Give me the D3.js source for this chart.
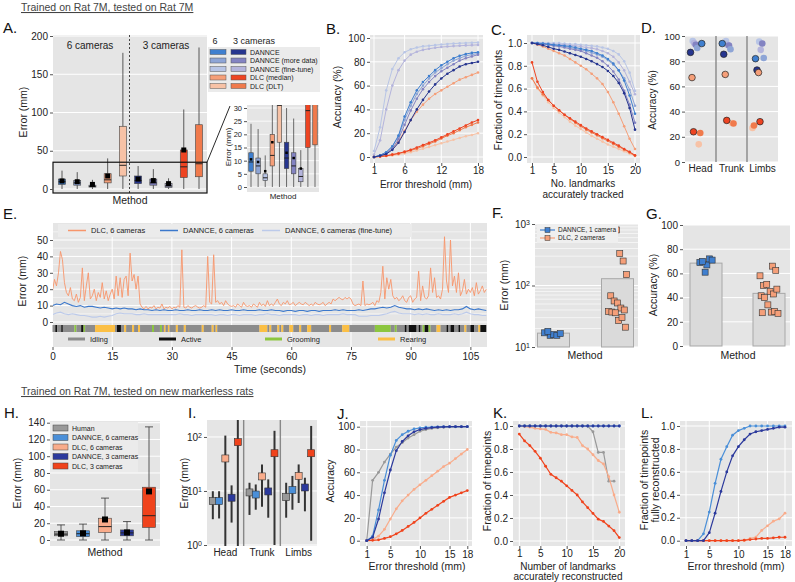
<!DOCTYPE html>
<html><head><meta charset="utf-8">
<script src="https://cdn.jsdelivr.net/npm/d3@7/dist/d3.min.js"></script>
<style>body{margin:0;background:#fff}svg{font-family:"Liberation Sans",Arial,Helvetica,sans-serif;display:block}</style>
</head><body><svg id="fig" width="795" height="582" viewBox="0 0 795 582"></svg>
<script>
// ================= DATA =================
// Panel A (box stats), order: DANNCE, more data, fine-tune, DLC median, DLC DLT
const methodsA = ['DANNCE','DANNCE (more data)','DANNCE (fine-tune)','DLC (median)','DLC (DLT)'];
const colors6 = ['#3f7fcf','#8ea5d6','#b8c5e6','#f59f79','#f7c2a6'];
const colors3 = ['#26358f','#8383c2','#b4b4dc','#ee4422','#f07a4c'];
const a6Low=[0,0,0,0,0], a6Q1=[6,5,2.5,8,17], a6Med=[9.5,8,3.5,12,31], a6Q3=[13,11,5,20,82], a6High=[24,22,12,40,178], a6Mean=[10.5,9.5,6,17,null];
const a3Low=[0,0,0,0,0], a3Q1=[7,5,2,15,16], a3Med=[11,8,4,29,33], a3Q3=[17,13,7,51,84], a3High=[30,26,14,104,185], a3Mean=[13,11,7,51,null];
const aTicks=[0,50,100,150,200], aInsetTicks=[0,5,10,15,20,25,30];

// Panel B: accuracy vs threshold
const bThresh=[1,2,3,4,5,6,7,8,9,10,11,12,13,14,15,16,17,18];
const bFt6=[5,25,56,74,83,88,90.5,92,93,93.5,94,94.5,95,95.3,95.6,95.8,96,96.2];
const bFt3=[2,14,40,60,73,81,86,88.5,90,91,91.8,92.4,92.8,93.2,93.5,93.8,94,94.2];
const bD6=[0,1.5,4,9,18,34,46,56,63,68,73,77,80,83,85,86.5,87.5,88];
const bMd6=[0,1.5,4,9,17,31,43,53,60,66,71,74.5,78,81,83,85,86,87];
const bMd3=[0,1,3,7,15,27,39,49,57,63,68,72,75,78,81,83,84.5,86];
const bD3=[0,1,2.5,6,12,21,31,40,48,55,61,66,70,73,76,78,79,80];
const bDm6=[0,1,3,7,13,22,31,38,44,49,53,56,59,62,65,67,69,71];
const bDm3=[0,0.5,1,2,3,4.5,6,8,10,12,14,16.5,19,21.5,24,26.5,29,31];
const bDl3=[0,0.5,1,2,3,4,5.5,7,9,11,13,15.5,18,20,22.5,25,27,29];
const bDl6=[0,0.3,0.7,1.2,2,3,4,5.5,7,8.5,10,11.5,13,14.5,16,17.5,18.5,20];

// Panel C: fraction of timepoints vs number of landmarks
const cN=[1,2,3,4,5,6,7,8,9,10,11,12,13,14,15,16,17,18,19,20];
const cFt6=[1,1,1,1,1,1,0.995,0.99,0.99,0.985,0.98,0.975,0.97,0.96,0.95,0.93,0.9,0.84,0.74,0.58];
const cFt3=[1,1,1,0.995,0.99,0.99,0.985,0.98,0.975,0.97,0.96,0.955,0.945,0.93,0.91,0.88,0.83,0.76,0.66,0.55];
const cD6=[1,1,0.995,0.99,0.985,0.98,0.975,0.97,0.96,0.95,0.94,0.93,0.91,0.89,0.86,0.82,0.76,0.67,0.54,0.38];
const cMd6=[1,0.995,0.99,0.985,0.98,0.975,0.97,0.96,0.95,0.94,0.93,0.915,0.9,0.88,0.85,0.81,0.76,0.69,0.59,0.45];
const cMd3=[1,0.995,0.99,0.985,0.975,0.97,0.96,0.95,0.94,0.93,0.91,0.89,0.87,0.84,0.8,0.75,0.68,0.58,0.46,0.30];
const cD3=[1,0.99,0.98,0.965,0.95,0.94,0.925,0.91,0.895,0.88,0.86,0.84,0.815,0.79,0.755,0.71,0.65,0.56,0.43,0.24];
const cDm6=[1,0.985,0.97,0.95,0.93,0.91,0.89,0.86,0.83,0.8,0.77,0.73,0.69,0.64,0.57,0.48,0.38,0.27,0.16,0.07];
const cDm3=[0.83,0.66,0.57,0.5,0.45,0.41,0.37,0.34,0.31,0.28,0.25,0.225,0.2,0.175,0.15,0.125,0.1,0.07,0.045,0.015];
const cDl3=[0.69,0.61,0.55,0.5,0.45,0.41,0.37,0.335,0.3,0.27,0.24,0.215,0.19,0.165,0.14,0.115,0.09,0.065,0.04,0.01];
const cDl6=[0.69,0.6,0.54,0.48,0.43,0.39,0.35,0.31,0.275,0.245,0.215,0.185,0.16,0.135,0.11,0.09,0.07,0.05,0.03,0.01];

// Panel D: accuracy per body part [Head, Trunk, Limbs]
const dParts=['Head','Trunk','Limbs'];
const dFt6=[96,96,95.5], dFt3=[94.5,93,89], dMd3=[93,92.5,94], dMd6=[90.5,89.5,82.5], dD6=[94,94,82], dD3=[87,85.5,73];
const dDm6=[67,69.5,71], dDm3=[24,33,32], dDl3=[23,30.5,29], dDl6=[14,31,27];

// Panel E: error time series
const eStep=0.5;
const eDLC=[19,26,22,30,43,38,24,18,16,21, 14,13,17,12,15,33,13,22,30,14, 16,20,13,18,15,24,14,19,13,17,
 20,14,28,16,27,15,26,28,16,42, 25,29,20,28,11,9,8,9.5,8,9, 8.5,10,8,9,8.5,11,8,9,8.5,9.5,
 8,9,8.5,10,9,44,9,8.5,10,9, 8.5,9.5,10,9,8.5,9,10,9,40,12, 11,41,12,13,11,12,10,13,11,10,
 9.5,10,9,11,10,9,12,10,9.5,10, 9,11,10,9,12,10,11,9.5,13,10, 11,10,12,14,11,10,12,11,13,10.5,
 11,12,10,11,12,11,10.5,12,11,10, 11,10,12,11,10.5,11,12,10,11,12, 11,14,13,14,15,14,13.5,15,14,15,
 14,11,10,10.5,11,10,25,10,11,10.5, 11,12,10,13,12,18,34,14,27,20, 26,16,14,15,13,14,16,13,12,15,
 16,12,14,15,31,13,22,15,14,16, 33,18,27,15,16,14,20,52,25,18, 50,22,28,18,30,16,19,26,17,20,
 18,21,16,24,17,19,22,18,20];
const eDannce=[10,11,10.5,12,11,10,9.5,10,9,9.5, 9.5,9,8.5,9,8.5,8,8.5,8,8.5,8, 8,7.5,8,7.5,7.5,7,7.5,7,7.5,7,
 7,7.5,7,7,7.5,7,7,7.5,7,7, 7.5,7,7.5,7,7,7.5,7,7,7.5,7, 7,7,7.5,7,7,7.5,7,7,6.5,7, 7,6.5,7,7,6.5,7,7,6.5,7,7,
 7,7.5,7,7.5,7,7,7,7.5,7,7.5, 8,8,8.5,9,8.5,9,10,9,8.5,8, 8,7.5,8,7.5,8,7.5,7,7.5,7,7.5, 7,7.5,7.5,8,9.5,8,7.5,8,7.5,7];
const eFine=[4.5,5.5,6,5,4.5,5,4.5,4,4,3.5, 3,3,3.5,3,3.5,4,5,5.5,5,5, 5,4.5,4.5,5,4.5,4.5,4.5,4.5,4.5,4.5,
 4.5,4.5,5,4.5,4.5,4,4.5,4.5,4.5,4.5, 4.5,4,4.5,4.5,4,4.5,4.5,4,4.5,4.5, 4.5,4,4.5,4.5,5,4.5,4.5,4,4.5,4.5,
 4.5,4.5,4,4.5,4.5,4,4.5,4.5,4,4.5, 4.5,4.5,4.5,5,4.5,4.5,4.5,3.5,3.5,3.5, 4,4,4,4.5,5,6,6.5,5.5,5,5,
 5,4.5,5,4.5,5,4.5,4.5,5,4.5,4.5, 4.5,5,4.5,5,6,5,4.5,4.5,4,4];
const eTicks=[0,15,30,45,60,75,90,105];
// behaviour segments [start s, end s, state]
const eStates=['Idling','Active','Grooming','Rearing'];
const eStateColors=['#8c8c8c','#111111','#8cc63f','#fbbf45'];
const eSegments=[[0,0.7,0],[0.7,1.2,1],[1.2,2.2,0],[2.2,2.6,1],[2.6,5.5,0],[5.5,6,2],[6,7.2,0],[7.2,7.8,1],[7.8,8.2,2],[8.2,10.7,0],
 [10.7,15.7,3],[15.7,16.2,0],[16.2,17.2,1],[17.2,18,0],[18,18.5,3],[18.5,20,0],[20,20.5,3],[20.5,21.5,0],[21.5,22,3],[22,25,0],
 [25,25.5,2],[25.5,27,0],[27,27.5,2],[27.5,28,0],[28,28.4,3],[28.4,29,0],[29,29.4,3],[29.4,31,0],[31,31.5,3],[31.5,33,0],
 [33,33.5,3],[33.5,37.5,0],[37.5,38,3],[38,40,0],[40,40.5,3],[40.5,41,0],[41,41.4,3],[41.4,52,0],[52,54,3],[54,54.5,0],
 [54.5,55,3],[55,56.5,0],[56.5,57,3],[57,57.5,0],[57.5,58,3],[58,59.5,0],[59.5,60.5,3],[60.5,62,0],[62,62.5,3],[62.5,64,0],
 [64,65,3],[65,69.5,0],[69.5,70,3],[70,72.8,0],[72.8,74.6,3],[74.6,81,0],[81,85,2],[85,86,0],[86,86.5,2],[86.5,88.5,0],
 [88.5,89,1],[89,89.5,0],[89.5,91.5,1],[91.5,92,0],[92,92.5,1],[92.5,93,0],[93,93.5,2],[93.5,94.5,1],[94.5,95,2],[95,96.5,0],
 [96.5,97.5,3],[97.5,99,0],[99,99.5,1],[99.5,100,0],[100,101,1],[101,102,0],[102,102.5,1],[102.5,103.5,0],[103.5,104,3],[104,105,0],
 [105,106,1],[106,107,0],[107,107.5,3],[107.5,109,1]];

// Panel F (log error) and G (accuracy)
const fgMethods=['DANNCE, 1 camera','DLC, 2 cameras'];
const fBars=[16.8,129];
const fDannce=[15.5,16,15.5,16.5,17,18];
const fDlc=[800,330,250,150,68,56,52,43,40,38,37,36,27,30,21];
const gBars=[68.5,43.5];
const gDannce=[67,72,71,69,70,61];
const gDlc=[66,62.5,58,50,51,45,43,47,41.5,40,34,28,28.5,27,27.5];

// Panels H-L (new markerless rats)
const hMethods=['Human','DANNCE, 6 cameras','DLC, 6 cameras','DANNCE, 3 cameras','DLC, 3 cameras'];
const hColors=['#999999','#4a8fd8','#f9ac8b','#2b399c','#f0431c'];
const hLow=[0,0,0,0,0], hQ1=[5,4,9,5,15], hMed=[7,7.5,16,8.5,29], hQ3=[10,11,26,12,63], hHigh=[18,19,50,22,135], hMean=[7.5,8,24.5,9,58];
// I: [Head, Trunk, Limbs] per method
const iMid=[[6.5,9.4,7.7],[6.5,8.6,10.4],[40,18.6,19],[7.5,9.8,11.6],[80,50,50]];
const iLow=[[3,3.6,3.2],[3.1,4.5,4.5],[0.8,5.1,6],[2.6,3.2,4.2],[0.8,1,1.2]];
const iHigh=[[9.9,14.2,14.2],[9.9,13.2,19],[106,31,31],[12.7,16.4,17.6],[400,130,160]];
// J: accuracy vs threshold
const jT=[1,2,3,4,5,6,7,8,9,10,11,12,13,14,15,16,17,18];
const jHuman=[0,53,60,69,76,82,86,90,93,96,97.5,98.5,99,99.5,99.7,99.8,99.9,100];
const jD6=[0,4,27,53,75,88,93,96,98,99,99.5,99.7,99.8,100,100,100,100,100];
const jD3=[0,3,19,42,62,79,87,92,95.5,97.5,98.5,99.2,99.6,99.8,100,100,100,100];
const jDlc6=[0,1,4,10,19,28,35,40,45,49,53,57,61,65,68,72,76,80];
const jDlc3=[0,0.3,0.8,2,3.5,6,9,12.5,16,20,24,27.5,31,34.5,38,40,42,44];
// K: fraction vs landmarks
const kN=[1,2,3,4,5,6,7,8,9,10,11,12,13,14,15,16,17,18,19,20];
const kHuman=[1,1,1,1,1,1,1,1,1,1,1,1,1,1,0.95,0.77,0.77,0.52,0.52,null];
const kD6=[1,1,1,1,1,1,1,1,1,1,1,1,1,1,1,1,1,1,1,1];
const kD3=[1,1,1,1,1,1,1,1,1,1,1,1,1,1,1,1,1,1,1,1];
const kDlc6=[1,0.995,0.99,0.98,0.975,0.97,0.945,0.94,0.925,0.925,0.905,0.9,0.83,0.8,0.75,0.7,0.67,0.56,0.4,0.25];
const kDlc3=[0.93,0.87,0.83,0.78,0.72,0.65,0.58,0.55,0.52,0.48,0.44,0.4,0.34,0.29,0.24,0.19,0.17,0.13,0.09,0.03];
// L: fully reconstructed
const lT=[1,2,3,4,5,6,7,8,9,10,11,12,13,14,15,16,17,18];
const lD6=[0,0,0,0.06,0.25,0.5,0.71,0.82,0.92,0.96,0.98,1,1,1,1,1,1,1];
const lD3=[0,0,0,0,0.07,0.24,0.43,0.6,0.74,0.82,0.88,0.93,0.95,0.96,0.97,0.98,0.99,0.99];
const lDlc6=[0,0,0,0,0,0,0,0,0,0,0,0.02,0.03,0.09,0.13,0.17,0.19,0.24];
const lDlc3=[0,0,0,0,0,0,0,0,0,0,0.005,0.01,0.015,0.02,0.02,0.025,0.03,0.03];

// ================= DRAWING =================
const fig=d3.select('#fig');
const BG='#e5e5e5', TXT='#222';
fig.append('rect').attr('width',795).attr('height',582).attr('fill','#fff');
const defs=fig.append('defs');
function clipRect(id,x0,y0,x1,y1){defs.append('clipPath').attr('id',id).append('rect').attr('x',x0).attr('y',y0).attr('width',x1-x0).attr('height',y1-y0);}
function text(x,y,s,o={}){
  const t=fig.append('text').attr('x',x).attr('y',y).text(s).attr('font-size',o.size||10.5).attr('fill',o.fill||TXT).attr('text-anchor',o.anchor||'start');
  if(o.rot) t.attr('transform',`rotate(-90,${x},${y})`);
  if(o.deco) t.attr('text-decoration',o.deco);
  return t;
}
function bg(x0,y0,x1,y1,fill){fig.append('rect').attr('x',x0).attr('y',y0).attr('width',x1-x0).attr('height',y1-y0).attr('fill',fill||BG);}
function hg(s,vals,x0,x1,w){fig.append('g').selectAll('line').data(vals).join('line').attr('x1',x0).attr('x2',x1).attr('y1',d=>s(d)).attr('y2',d=>s(d)).attr('stroke','#fff').attr('stroke-width',w||1);}
function vg(s,vals,y0,y1,w){fig.append('g').selectAll('line').data(vals).join('line').attr('y1',y0).attr('y2',y1).attr('x1',d=>s(d)).attr('x2',d=>s(d)).attr('stroke','#fff').attr('stroke-width',w||1);}
function styleAx(g,fs){g.attr('font-family',null).attr('font-size',null);g.select('.domain').remove();g.selectAll('.tick line').attr('stroke','#555');g.selectAll('.tick text').attr('font-size',fs).attr('fill',TXT);return g;}
function yAx(s,vals,x,fmt,fs){const a=d3.axisLeft(s).tickSize(3).tickPadding(2);if(vals)a.tickValues(vals);if(fmt)a.tickFormat(fmt);return styleAx(fig.append('g').attr('transform',`translate(${x},0)`).call(a),fs||10);}
function xAx(s,vals,y,fmt,fs,size,pad){const a=d3.axisBottom(s).tickSize(size==null?3:size).tickPadding(pad==null?3:pad);if(vals)a.tickValues(vals);if(fmt)a.tickFormat(fmt);return styleAx(fig.append('g').attr('transform',`translate(0,${y})`).call(a),fs||10);}
function sup(g){g.selectAll('.tick text').each(function(d){const t=d3.select(this);t.text('10');t.append('tspan').attr('dy','-0.45em').attr('font-size','0.7em').text(Math.round(Math.log10(d)));});}
function series(xs,ys,xv,yv,color,r,sw,clip){
  const pts=xv.map((x,i)=>[x,yv[i]]).filter(p=>p[1]!=null);
  const g=fig.append('g'); if(clip) g.attr('clip-path',`url(#${clip})`);
  g.append('path').attr('d',d3.line().x(d=>xs(d[0])).y(d=>ys(d[1]))(pts)).attr('fill','none').attr('stroke',color).attr('stroke-width',sw||1);
  if(r) g.selectAll('circle').data(pts).join('circle').attr('cx',d=>xs(d[0])).attr('cy',d=>ys(d[1])).attr('r',r).attr('fill',color);
}
function boxes(o){
  const g=fig.append('g'); if(o.clip) g.attr('clip-path',`url(#${o.clip})`);
  o.lo.forEach((_,i)=>{
    const cx=o.x(i), lw=o.lw||0.8;
    g.append('line').attr('x1',cx).attr('x2',cx).attr('y1',o.y(o.lo[i])).attr('y2',o.y(o.hi[i])).attr('stroke','#333').attr('stroke-width',lw);
    if(o.cap){[o.lo[i],o.hi[i]].forEach(v=>g.append('line').attr('x1',cx-o.cap).attr('x2',cx+o.cap).attr('y1',o.y(v)).attr('y2',o.y(v)).attr('stroke','#333').attr('stroke-width',lw));}
    g.append('rect').attr('x',cx-o.bw/2).attr('width',o.bw).attr('y',o.y(o.q3[i])).attr('height',o.y(o.q1[i])-o.y(o.q3[i])).attr('fill',o.cols[i]).attr('stroke','#444').attr('stroke-width',0.6);
    g.append('line').attr('x1',cx-o.bw/2).attr('x2',cx+o.bw/2).attr('y1',o.y(o.md[i])).attr('y2',o.y(o.md[i])).attr('stroke','#222').attr('stroke-width',1);
    if(o.mn[i]!=null) g.append('rect').attr('x',cx-o.ms/2).attr('y',o.y(o.mn[i])-o.ms/2).attr('width',o.ms).attr('height',o.ms).attr('fill','#000');
  });
}
const jit=(i,k,amp)=>((((i+1)*37+k*53)%17)/16-0.5)*2*amp;
function panelLabel(x,y,s){text(x,y,s,{size:15,fill:'#111'});}

// ---------- Titles ----------
text(21,11,'Trained on Rat 7M, tested on Rat 7M',{size:10.5,fill:'#444',deco:'underline'});
text(21,395,'Trained on Rat 7M, tested on new markerless rats',{size:10.5,fill:'#444',deco:'underline'});

// ---------- A ----------
panelLabel(3,33,'A.');
const aColors=colors6.concat(colors3);
const aLo=a6Low.concat(a3Low), aQ1=a6Q1.concat(a3Q1), aMd=a6Med.concat(a3Med), aQ3=a6Q3.concat(a3Q3), aHi=a6High.concat(a3High), aMn=a6Mean.concat(a3Mean);
bg(53,35,207,193);
const aY=d3.scaleLinear([0,200],[189,36]);
hg(aY,aTicks,53,207);
const aX=d3.scalePoint(d3.range(10),[62,199]);
fig.append('line').attr('x1',129.5).attr('x2',129.5).attr('y1',35).attr('y2',193).attr('stroke','#444').attr('stroke-dasharray','2,2');
text(90,49,'6 cameras',{anchor:'middle',size:10});
text(166,49,'3 cameras',{anchor:'middle',size:10});
boxes({x:aX,y:aY,lo:aLo,q1:aQ1,md:aMd,q3:aQ3,hi:aHi,mn:aMn,cols:aColors,bw:7,ms:5});
fig.append('rect').attr('x',53).attr('y',aY(35)).attr('width',154).attr('height',193-aY(35)).attr('fill','none').attr('stroke','#111').attr('stroke-width',1.2);
fig.append('line').attr('x1',207).attr('y1',aY(35)).attr('x2',230).attr('y2',106).attr('stroke','#111').attr('stroke-width',0.9);
yAx(aY,aTicks,53);
text(27,112,'Error (mm)',{anchor:'middle',rot:true});
text(130,204,'Method',{anchor:'middle'});
// legend A
text(215,44,'6',{size:9,anchor:'middle'});
text(233,44,'3 cameras',{size:9});
bg(208,47,320,92,'#ebebeb');
const legY=d3.scalePoint(methodsA,[52,86]);
methodsA.forEach((m,i)=>{
  fig.append('rect').attr('x',210).attr('y',legY(m)-2.5).attr('width',16).attr('height',5).attr('fill',colors6[i]).attr('stroke','#555').attr('stroke-width',0.5);
  fig.append('rect').attr('x',231).attr('y',legY(m)-2.5).attr('width',15).attr('height',5).attr('fill',colors3[i]).attr('stroke','#555').attr('stroke-width',0.5);
  text(250,legY(m)+2.5,m,{size:7});
});
// inset
clipRect('cInset',247,105,319,192);
bg(247,105,319,192);
const insY=d3.scaleLinear([0,30],[187,108]);
hg(insY,aInsetTicks,247,319,0.8);
const insX=d3.scalePoint(d3.range(10),[251,315]);
boxes({x:insX,y:insY,lo:aLo,q1:aQ1,md:aMd,q3:aQ3,hi:aHi,mn:aMn,cols:aColors,bw:4.5,ms:2.5,clip:'cInset',lw:0.7});
yAx(insY,aInsetTicks,247,null,7.5);
text(231,147,'Error (mm)',{anchor:'middle',rot:true,size:8});
text(283,199,'Method',{anchor:'middle',size:8});

// ---------- B ----------
panelLabel(326,34,'B.');
bg(370,35,483,163);
const bX=d3.scaleLinear([1,18],[374,478]), bY=d3.scaleLinear([0,100],[157,38]);
hg(bY,[0,20,40,60,80,100],370,483); vg(bX,[1,6,12,18],35,163);
[[bFt6,colors6[2]],[bFt3,colors3[2]],[bDl6,colors6[4]],[bDl3,colors3[4]],[bDm3,colors3[3]],[bDm6,colors6[3]],[bMd6,colors6[1]],[bMd3,colors3[1]],[bD6,colors6[0]],[bD3,colors3[0]]]
 .forEach(([v,c])=>series(bX,bY,bThresh,v,c,1.3,1));
yAx(bY,[0,20,40,60,80,100],370); xAx(bX,[1,6,12,18],163,null,10,3,1);
text(341,97,'Accuracy (%)',{anchor:'middle',rot:true});
text(426,188,'Error threshold (mm)',{anchor:'middle',size:10});

// ---------- C ----------
panelLabel(491,35,'C.');
bg(527,35,640,163);
const cX=d3.scaleLinear([1,20],[532,635]), cY=d3.scaleLinear([0,1],[157,43]);
hg(cY,[0,0.2,0.4,0.6,0.8,1],527,640); vg(cX,[1,5,10,15,20],35,163);
[[cFt6,colors6[2]],[cFt3,colors3[2]],[cDl6,colors6[4]],[cDl3,colors3[4]],[cDm3,colors3[3]],[cDm6,colors6[3]],[cMd6,colors6[1]],[cMd3,colors3[1]],[cD6,colors6[0]],[cD3,colors3[0]]]
 .forEach(([v,c])=>series(cX,cY,cN,v,c,1.3,1));
yAx(cY,[0,0.2,0.4,0.6,0.8,1],527,d3.format('.1f')); xAx(cX,[1,5,10,15,20],163,null,10,3,1);
text(502,100,'Fraction of timepoints',{anchor:'middle',rot:true});
text(583,187,'No. landmarks',{anchor:'middle',size:10});
text(583,197.5,'accurately tracked',{anchor:'middle',size:10});

// ---------- D ----------
panelLabel(641,33,'D.');
bg(685,36,778,162);
const dX=d3.scaleBand(dParts,[685,778]), dY=d3.scaleLinear([0,100],[162,36]);
hg(dY,[0,20,40,60,80,100],685,778);
[716,747].forEach(x=>fig.append('line').attr('x1',x).attr('x2',x).attr('y1',36).attr('y2',162).attr('stroke','#888').attr('stroke-width',1.4));
const dSeries=[[dFt6,colors6[2],false],[dFt3,colors3[2],false],[dMd3,colors3[1],false],[dMd6,colors6[1],false],[dDl6,colors6[4],false],[dDl3,colors3[4],false],[dD6,colors6[0],true],[dD3,colors3[0],true],[dDm6,colors6[3],true],[dDm3,colors3[3],true]];
dSeries.forEach(([v,c,st],k)=>{
  fig.append('g').selectAll('circle').data(v).join('circle')
   .attr('cx',(d,i)=>dX(dParts[i])+dX.bandwidth()/2-4+jit(i,k,6)).attr('cy',d=>dY(d)).attr('r',3.3)
   .attr('fill',c).attr('stroke',st?'#222':'none').attr('stroke-width',0.7);
});
yAx(dY,[0,20,40,60,80,100],685,null,9.5);
xAx(dX,null,162,null,10,0);
text(656,100,'Accuracy (%)',{anchor:'middle',rot:true,size:10});

// ---------- E ----------
panelLabel(3,219,'E.');
bg(53,223,487,347);
const eX=d3.scaleLinear([0,109],[52.5,486.3]), eY=d3.scaleLinear([0,50],[322,240]);
hg(eY,[5,15,25,35,45,55],53,487,0.5); hg(eY,[0,10,20,30,40,50],53,487,1);
vg(eX,eTicks,223,347);
clipRect('cE',53,223,487,323);
const eT=eDLC.map((_,i)=>i*eStep), eT1=eDannce.map((_,i)=>i);
series(eX,eY,eT1,eFine,'#bccaea',0,1.1,'cE');
series(eX,eY,eT,eDLC,'#f7956b',0,0.9,'cE');
series(eX,eY,eT1,eDannce,'#3b78cc',0,1.1,'cE');
// legend
bg(58,224,412,237,'#ebebeb');
[['DLC, 6 cameras','#f7956b',68],['DANNCE, 6 cameras','#3b78cc',160],['DANNCE, 6 cameras (fine-tune)','#bccaea',262]].forEach(([s,c,x])=>{
  fig.append('line').attr('x1',x).attr('x2',x+18).attr('y1',230.5).attr('y2',230.5).attr('stroke',c).attr('stroke-width',1.5);
  text(x+23,233,s,{size:7.5});
});
// ethogram
fig.append('g').selectAll('rect').data(eSegments).join('rect')
 .attr('x',d=>eX(d[0])).attr('width',d=>Math.max(0.8,eX(d[1])-eX(d[0]))).attr('y',325).attr('height',7)
 .attr('fill',d=>eStateColors[d[2]]);
[[0,68],[1,159],[2,265],[3,378]].forEach(([k,x])=>{
  fig.append('line').attr('x1',x).attr('x2',x+17).attr('y1',339).attr('y2',339).attr('stroke',eStateColors[k]).attr('stroke-width',3);
  text(x+22,341.5,eStates[k],{size:7.5});
});
yAx(eY,[0,10,20,30,40,50],53); xAx(eX,eTicks,347);
text(26,281,'Error (mm)',{anchor:'middle',rot:true});
text(270,373,'Time (seconds)',{anchor:'middle'});

// ---------- F ----------
panelLabel(492,218,'F.');
bg(535,224,638,347);
const fY=d3.scaleLog([10,1000],[347,224]);
const fX=d3.scalePoint(fgMethods,[553.5,617.5]);
const minors=[20,30,40,50,60,70,80,90,200,300,400,500,600,700,800,900];
hg(fY,minors,535,638,0.6); hg(fY,[10,100,1000],535,638,1);
fig.append('g').selectAll('rect').data(fBars).join('rect')
 .attr('x',(d,i)=>fX(fgMethods[i])-16).attr('width',32).attr('y',d=>fY(d)).attr('height',d=>347-fY(d))
 .attr('fill','#dadada').attr('stroke','#a8a8a8').attr('stroke-width',1);
function sq(g,data,xc,ys,col,amp,k){g.selectAll(null).data(data).join('rect').attr('x',(d,i)=>xc+jit(i,k,amp)-3).attr('y',d=>ys(d)-3).attr('width',6).attr('height',6).attr('fill',col).attr('stroke','#333').attr('stroke-width',0.6);}
sq(fig.append('g'),fDannce,fX(fgMethods[0]),fY,'#3f7fcf',9,1);
sq(fig.append('g'),fDlc,fX(fgMethods[1]),fY,'#f59f79',9,2);
// legend F
bg(537,224,618,243,'#efefef');
[[fgMethods[0],'#3f7fcf',230],[fgMethods[1],'#f59f79',238]].forEach(([s,c,y])=>{
  fig.append('line').attr('x1',540).attr('x2',555).attr('y1',y).attr('y2',y).attr('stroke',c).attr('stroke-width',1.2);
  fig.append('rect').attr('x',545).attr('y',y-2.5).attr('width',5).attr('height',5).attr('fill',c).attr('stroke','#333').attr('stroke-width',0.5);
  text(558,y+2.3,s,{size:6.5});
});
sup(yAx(fY,[10,100,1000],535,null,10));
xAx(fX,[],347,null,10,0);
text(508,285,'Error (mm)',{anchor:'middle',rot:true});
text(585,359,'Method',{anchor:'middle'});

// ---------- G ----------
panelLabel(646,219,'G.');
bg(683,225,790,346);
const gY=d3.scaleLinear([0,100],[346,225]);
const gX=d3.scalePoint(fgMethods,[706,769]);
hg(gY,[0,20,40,60,80,100],683,790);
fig.append('g').selectAll('rect').data(gBars).join('rect')
 .attr('x',(d,i)=>gX(fgMethods[i])-16).attr('width',32).attr('y',d=>gY(d)).attr('height',d=>346-gY(d))
 .attr('fill','#dadada').attr('stroke','#a8a8a8').attr('stroke-width',1);
sq(fig.append('g'),gDannce,gX(fgMethods[0]),gY,'#3f7fcf',7,3);
sq(fig.append('g'),gDlc,gX(fgMethods[1]),gY,'#f59f79',9,4);
yAx(gY,[0,20,40,60,80,100],683);
text(657,285,'Accuracy (%)',{anchor:'middle',rot:true});
text(738,359,'Method',{anchor:'middle'});

// ---------- H ----------
panelLabel(4,418,'H.');
bg(50,421,160,546);
const hY=d3.scaleLinear([0,140],[540,422.7]);
hg(hY,[0,20,40,60,80,100,120,140],50,160);
const hX=d3.scalePoint(d3.range(5),[61,149]);
boxes({x:hX,y:hY,lo:hLow,q1:hQ1,md:hMed,q3:hQ3,hi:hHigh,mn:hMean,cols:hColors,bw:13,ms:6,cap:4});
bg(50,422,138,472,'#ebebeb');
const hLeg=d3.scalePoint(hMethods,[428,466]);
hMethods.forEach((m,i)=>{
  fig.append('rect').attr('x',53).attr('y',hLeg(m)-3).attr('width',15).attr('height',6).attr('fill',hColors[i]).attr('stroke','#444').attr('stroke-width',0.5);
  text(72,hLeg(m)+2.5,m,{size:7});
});
yAx(hY,[0,20,40,60,80,100,120,140],50);
text(21,483,'Error (mm)',{anchor:'middle',rot:true});
text(105,556,'Method',{anchor:'middle'});

// ---------- I ----------
panelLabel(188,418,'I.');
bg(207,420,317,546);
const iY=d3.scaleLog([1,200],[545,420.7]);
const iX=d3.scaleBand(dParts,[207,317]);
const iDodge=d3.scalePoint(d3.range(5),[-12.5,12.5]);
hg(iY,[1,10,100],207,317);
[iX('Trunk'),iX('Limbs')].forEach(x=>fig.append('line').attr('x1',x).attr('x2',x).attr('y1',420).attr('y2',546).attr('stroke','#888').attr('stroke-width',1.4));
clipRect('cI',207,420,317,546);
const iG=fig.append('g').attr('clip-path','url(#cI)');
hMethods.forEach((m,k)=>{
  dParts.forEach((p,j)=>{
    const cx=iX(p)+iX.bandwidth()/2+iDodge(k);
    iG.append('line').attr('x1',cx).attr('x2',cx).attr('y1',iY(iLow[k][j])).attr('y2',iY(iHigh[k][j])).attr('stroke','#333').attr('stroke-width',2);
    iG.append('rect').attr('x',cx-3.5).attr('y',iY(iMid[k][j])-3.5).attr('width',7).attr('height',7).attr('fill',hColors[k]).attr('stroke','#333').attr('stroke-width',0.6);
  });
});
sup(yAx(iY,[1,10,100],207,null,10));
xAx(iX,null,546,null,10,0);
text(188,483,'Error (mm)',{anchor:'middle',rot:true});

// ---------- J ----------
panelLabel(337,419,'J.');
bg(360,421,472,546);
const jX=d3.scaleLinear([1,18],[366.7,467.3]), jY=d3.scaleLinear([0,100],[540.7,426.7]);
hg(jY,[0,20,40,60,80,100],360,472); vg(jX,[1,5,10,15,18],421,546);
[[jHuman,hColors[0]],[jDlc6,hColors[2]],[jDlc3,hColors[4]],[jD6,hColors[1]],[jD3,hColors[3]]].forEach(([v,c])=>series(jX,jY,jT,v,c,1.4,1.2));
yAx(jY,[0,20,40,60,80,100],360); xAx(jX,[1,5,10,15,18],546,null,10,3,2);
text(334,481,'Accuracy',{anchor:'middle',rot:true});
text(417,570,'Error threshold (mm)',{anchor:'middle'});

// ---------- K ----------
panelLabel(493,418,'K.');
bg(513,421,625,546);
const kX=d3.scaleLinear([1,20],[519.3,619.3]), kY=d3.scaleLinear([0,1],[541,426]);
hg(kY,[0,0.2,0.4,0.6,0.8,1],513,625); vg(kX,[1,5,10,15,20],421,546);
[[kHuman,hColors[0]],[kDlc6,hColors[2]],[kDlc3,hColors[4]],[kD6,hColors[1]],[kD3,hColors[3]]].forEach(([v,c])=>series(kX,kY,kN,v,c,1.4,1.2));
yAx(kY,[0,0.2,0.4,0.6,0.8,1],513,d3.format('.1f')); xAx(kX,[1,5,10,15,20],546,null,10,3,1);
text(491,481,'Fraction of timepoints',{anchor:'middle',rot:true});
text(568,570,'Number of landmarks',{anchor:'middle',size:10});
text(568,580,'accurately reconstructed',{anchor:'middle',size:10});

// ---------- L ----------
panelLabel(641,418,'L.');
bg(680,421,792,546);
const lX=d3.scaleLinear([1,18],[686,785]), lY=d3.scaleLinear([0,1],[540.7,426]);
hg(lY,[0,0.2,0.4,0.6,0.8,1],680,792); vg(lX,[1,5,10,15,18],421,546);
[[lDlc6,hColors[2]],[lDlc3,hColors[4]],[lD6,hColors[1]],[lD3,hColors[3]]].forEach(([v,c])=>series(lX,lY,lT,v,c,1.4,1.2));
yAx(lY,[0,0.2,0.4,0.6,0.8,1],680,d3.format('.1f')); xAx(lX,[1,5,10,15,18],546,null,10,3,2);
text(648,480,'Fraction of timepoints',{anchor:'middle',rot:true});
text(659,480,'fully reconstructed',{anchor:'middle',rot:true});
text(736,570,'Error threshold (mm)',{anchor:'middle'});
</script></body></html>
